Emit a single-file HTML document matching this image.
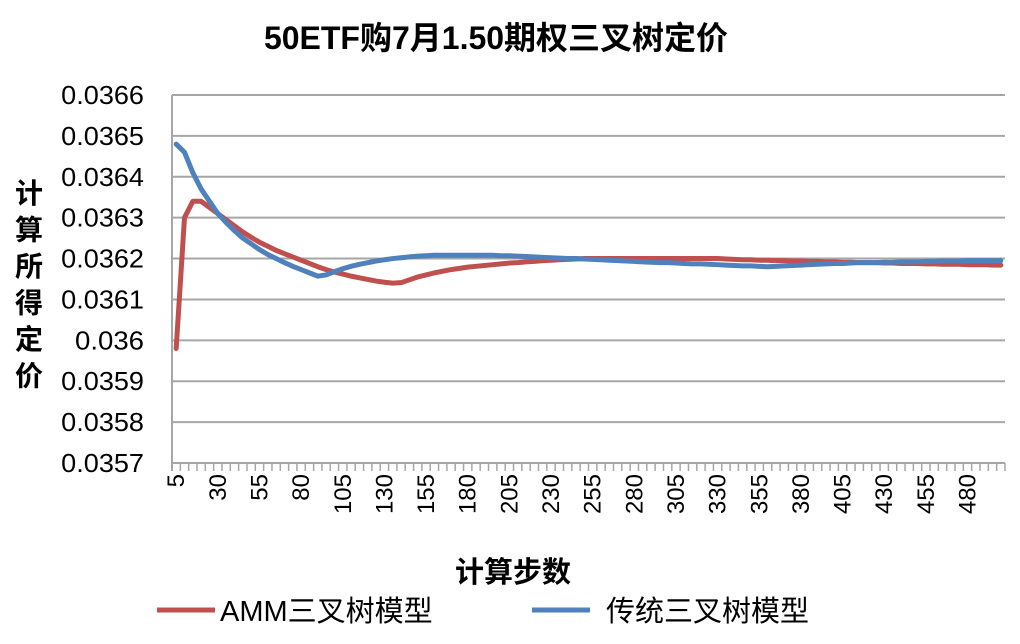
<!DOCTYPE html>
<html><head><meta charset="utf-8"><style>
body{margin:0;background:#fff;width:1020px;height:639px;overflow:hidden}
text{font-family:"Liberation Sans","Noto Sans CJK SC",sans-serif}
</style></head><body>
<svg id="c" width="1020" height="639"></svg>
<script>
const steps=[];for(let s=5;s<=500;s+=5)steps.push(s);
const amm=[.03598,.03630,.03634,.03634,.036325,.03631,.036295,.03628,.036265,.036252,
.03624,.03623,.03622,.036212,.036204,.036196,.036188,.03618,.036173,.036167,
.036162,.036157,.036153,.036149,.036145,.036142,.03614,.036141,.036148,.036155,
.03616,.036165,.036169,.036173,.036176,.036179,.036181,.036183,.036185,.036187,
.036189,.03619,.036192,.036193,.036195,.036196,.036197,.036198,.036199,.0362,
.0362,.0362,.0362,.0362,.0362,.0362,.0362,.0362,.0362,.0362,
.0362,.0362,.0362,.0362,.0362,.0362,.036199,.036198,.036197,.036197,
.036196,.036196,.036195,.036195,.036194,.036194,.036193,.036193,.036192,.036192,
.036191,.036191,.03619,.03619,.03619,.036189,.036189,.036188,.036188,.036188,
.036187,.036187,.036186,.036186,.036186,.036185,.036185,.036185,.036184,.036184];
const trad=[.03648,.03646,.03641,.03637,.03634,.03631,.036288,.036268,.03625,.036236,
.036222,.03621,.0362,.03619,.036181,.036173,.036165,.036157,.03616,.036168,
.036175,.036181,.036186,.03619,.036194,.036197,.0362,.036202,.036204,.036206,
.036207,.036208,.036208,.036208,.036208,.036208,.036208,.036208,.036208,.036207,
.036207,.036206,.036205,.036204,.036203,.036202,.036201,.0362,.0362,.036199,
.036198,.036197,.036196,.036195,.036194,.036193,.036192,.036191,.03619,.03619,
.036189,.036188,.036187,.036187,.036186,.036185,.036184,.036183,.036182,.036182,
.036181,.03618,.036181,.036182,.036183,.036184,.036185,.036186,.036187,.036188,
.036188,.036189,.03619,.03619,.03619,.036191,.036191,.036192,.036192,.036192,
.036193,.036193,.036194,.036194,.036194,.036195,.036195,.036195,.036195,.036195];
const yTicks=[0.0357,0.0358,0.0359,0.036,0.0361,0.0362,0.0363,0.0364,0.0365,0.0366];
const yTickLabels=["0.0357","0.0358","0.0359","0.036","0.0361","0.0362","0.0363","0.0364","0.0365","0.0366"];
const X0=172,X1=1005,Y0=463,Y1=95,YMIN=0.0357,YMAX=0.0366;
const cw=(X1-X0)/steps.length;
const xs=i=>X0+(i+0.5)*cw;
const ys=v=>Y0-(v-YMIN)/(YMAX-YMIN)*(Y0-Y1);
const svg=document.getElementById('c');const NS='http://www.w3.org/2000/svg';
function mk(t,a,p){const e=document.createElementNS(NS,t);for(const k in a)e.setAttribute(k,a[k]);(p||svg).appendChild(e);return e;}
let e;
yTicks.forEach((v,i)=>{
 e=mk('line',{x1:X0,x2:X1,y1:ys(v),y2:ys(v),stroke:'#a6a6a6','stroke-width':2});
 
 
 e=mk('text',{x:144,y:ys(v)+9,'text-anchor':'end','font-size':26,fill:'#000','textLength':yTickLabels[i].length*13.8,'lengthAdjust':'spacingAndGlyphs'});e.textContent=yTickLabels[i];
 
 
});
e=mk('line',{x1:X0,x2:X0,y1:Y1,y2:Y0+8,stroke:'#a6a6a6','stroke-width':2});


for(let i=0;i<=steps.length;i++){
 e=mk('line',{x1:X0+i*cw,x2:X0+i*cw,y1:Y0,y2:Y0+8,stroke:'#a6a6a6','stroke-width':1.5});
 
 
}
steps.forEach((s,i)=>{ if(i%5)return;
 const x=xs(i)+8;
 e=mk('text',{x:x,y:474,'text-anchor':'end','font-size':24,transform:`rotate(-90 ${x} 474)`});e.textContent=s;
 
 
});
function series(d,col,name){
 e=mk('polyline',{points:d.map((v,i)=>xs(i)+','+ys(v)).join(' '),fill:'none',stroke:col,'stroke-width':5,'stroke-linejoin':'round','stroke-linecap':'round'});
 
 
}
series(amm,'#C0504D','amm-series');
series(trad,'#4F81BD','traditional-series');
e=mk('text',{x:496,y:49,'text-anchor':'middle','font-size':32,'font-weight':'bold'});e.textContent='50ETF购7月1.50期权三叉树定价';


const yt='计算所得定价';
for(let i=0;i<yt.length;i++){e=mk('text',{x:29,y:203+i*36.5,'text-anchor':'middle','font-size':28,'font-weight':'bold'});e.textContent=yt[i];
 
 }
e=mk('text',{x:513,y:582,'text-anchor':'middle','font-size':29,'font-weight':'bold'});e.textContent='计算步数';


e=mk('line',{x1:157,x2:215,y1:610,y2:610,stroke:'#C0504D','stroke-width':5});


e=mk('text',{x:220,y:621,'font-size':29});e.textContent='AMM三叉树模型';


e=mk('line',{x1:532,x2:590,y1:610,y2:610,stroke:'#4F81BD','stroke-width':5});


e=mk('text',{x:606,y:621,'font-size':29});e.textContent='传统三叉树模型';


</script>
</body></html>
